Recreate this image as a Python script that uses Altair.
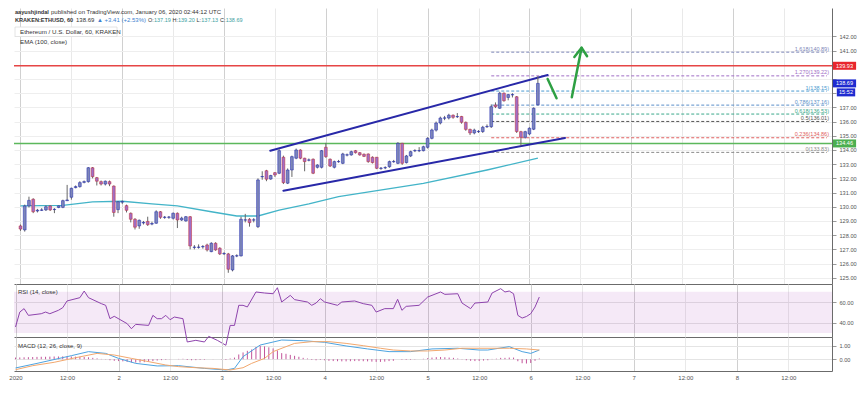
import altair as alt
import pandas as pd

FONT = "Liberation Sans"
W = 818
H_PRICE, H_RSI, H_MACD = 276, 53, 34
X_DOMAIN = [-0.35, 190.17]
PRICE_DOMAIN = [124.56, 144.0]
RSI_DOMAIN = [26.2, 77.4]
MACD_DOMAIN = [-0.874, 1.644]

UP, DOWN = "#1a24b0", "#c4282c"

# ---------------- data (hourly candles, hour 0 = Jan 1 2020 00:00) ----------------
hours = list(range(123))
opens = [128.65, 128.37, 130.06, 130.53, 129.70, 129.75, 129.78, 130.06, 129.80, 129.95,
         129.96, 130.43, 130.67, 131.35, 131.42, 131.72, 131.77, 132.75, 132.05, 131.77,
         131.60, 131.77, 131.46, 129.80, 130.33, 130.08, 129.54, 129.12, 128.65, 128.86,
         128.97, 128.78, 128.84, 129.65, 129.25, 129.26, 129.19, 129.54, 129.07, 129.00,
         129.30, 127.14, 127.14, 127.18, 127.31, 126.84, 127.43, 127.08, 126.69, 126.68,
         125.55, 126.53, 126.54, 129.06, 129.12, 129.06, 128.60, 132.11, 132.54, 131.95,
         132.40, 132.36, 133.49, 131.66, 132.59, 133.42, 134.00, 133.42, 133.28, 133.35,
         132.78, 132.78, 134.19, 133.35, 132.78, 133.17, 133.06, 133.64, 133.65, 133.95,
         133.81, 133.70, 133.72, 133.49, 133.49, 132.70, 132.74, 132.82, 133.17, 133.06,
         134.47, 133.11, 133.58, 133.94, 133.94, 133.95, 134.19, 134.82, 135.40, 135.90,
         136.24, 136.25, 136.45, 136.34, 136.36, 135.95, 135.45, 135.20, 135.29, 135.30,
         135.64, 135.64, 137.17, 136.94, 138.00, 137.70, 137.88, 137.75, 135.29, 134.89,
         135.13, 135.46, 137.19]
closes = [128.43, 130.06, 130.45, 129.65, 129.76, 129.78, 130.00, 129.78, 129.82, 130.06,
          130.43, 130.48, 131.30, 131.42, 131.70, 131.77, 132.75, 132.12, 131.80, 131.60,
          131.80, 131.60, 129.60, 130.35, 130.36, 129.75, 129.12, 128.56, 129.05, 128.90,
          128.74, 128.82, 129.65, 129.26, 129.27, 129.28, 129.54, 129.07, 129.20, 129.30,
          127.24, 127.16, 127.16, 127.20, 126.96, 127.43, 126.96, 126.68, 126.71, 125.60,
          126.54, 126.55, 129.12, 129.08, 128.88, 129.08, 131.89, 132.13, 131.94, 132.20,
          132.24, 133.95, 131.70, 132.59, 133.53, 134.00, 133.42, 133.18, 133.30, 132.36,
          132.94, 133.95, 133.53, 132.87, 133.18, 133.19, 133.72, 133.66, 133.88, 133.81,
          133.65, 133.55, 133.18, 133.11, 132.71, 132.72, 132.76, 133.18, 133.19, 134.47,
          133.06, 133.58, 133.88, 133.96, 133.96, 134.23, 134.82, 135.41, 135.90, 136.25,
          136.26, 136.45, 136.30, 136.36, 135.95, 135.45, 135.20, 135.40, 135.31, 135.60,
          135.66, 137.05, 137.05, 138.00, 137.47, 137.90, 137.90, 135.30, 134.89, 135.29,
          135.53, 136.94, 138.69]
highs = [128.75, 130.15, 130.71, 130.60, 129.85, 129.90, 130.10, 130.10, 129.90, 130.10,
         130.50, 131.54, 131.35, 131.50, 131.80, 131.85, 132.80, 132.80, 132.10, 131.85,
         131.85, 131.85, 131.50, 130.40, 130.45, 130.15, 129.60, 129.20, 129.10, 129.00,
         129.30, 128.95, 129.75, 129.70, 129.35, 129.35, 129.60, 129.60, 129.30, 129.35,
         129.35, 127.30, 127.35, 127.30, 127.40, 127.50, 127.50, 127.15, 126.80, 126.75,
         126.60, 126.65, 129.30, 129.50, 129.20, 129.20, 132.00, 132.50, 132.60, 132.25,
         132.45, 134.05, 133.60, 132.70, 133.60, 134.10, 134.05, 133.45, 133.40, 133.40,
         133.00, 134.00, 134.50, 133.40, 133.25, 133.30, 133.80, 133.75, 133.95, 134.00,
         133.85, 133.75, 133.75, 133.55, 133.50, 132.80, 132.85, 133.25, 133.30, 134.55,
         134.50, 133.65, 133.95, 134.05, 134.20, 134.30, 134.90, 135.50, 136.00, 136.35,
         136.40, 136.55, 136.50, 136.60, 136.40, 136.00, 135.50, 135.50, 135.40, 135.70,
         135.80, 137.20, 137.35, 138.10, 138.05, 137.95, 138.00, 137.80, 135.35, 135.35,
         135.60, 137.00, 139.20]
lows = [128.30, 128.25, 129.95, 129.55, 129.60, 129.70, 129.70, 129.70, 129.55, 129.90,
        129.90, 130.40, 130.50, 131.30, 131.35, 131.65, 131.70, 132.00, 131.50, 131.50,
        131.50, 131.45, 129.30, 129.55, 130.20, 129.60, 128.90, 128.40, 128.45, 128.75,
        128.65, 128.70, 128.80, 129.15, 129.15, 129.15, 129.10, 128.50, 129.00, 128.95,
        127.00, 127.00, 127.05, 127.05, 126.85, 126.80, 126.90, 126.60, 126.60, 125.35,
        125.45, 126.45, 126.50, 128.90, 128.60, 128.90, 128.50, 131.90, 131.80, 131.90,
        132.10, 132.30, 131.60, 131.60, 132.10, 133.35, 133.35, 132.50, 133.20, 132.30,
        132.70, 132.70, 133.45, 132.80, 132.70, 133.10, 133.00, 133.55, 133.60, 133.75,
        133.60, 133.50, 133.10, 133.05, 132.65, 132.60, 132.65, 132.75, 133.10, 133.00,
        132.95, 133.05, 133.50, 133.85, 133.85, 133.90, 134.10, 134.75, 135.30, 135.80,
        136.10, 136.15, 136.20, 136.25, 135.85, 135.35, 135.05, 135.10, 135.20, 135.20,
        135.55, 135.55, 136.95, 136.90, 137.40, 137.50, 137.70, 135.20, 134.30, 134.80,
        135.05, 135.40, 137.13]

ema_h = [0, 10, 17, 24, 31, 37, 45, 51, 56, 61, 68, 75, 95, 110, 122]
ema_v = [130.06, 130.10, 130.34, 130.39, 130.20, 130.06, 129.65, 129.35, 129.35, 129.77,
         130.20, 130.71, 131.65, 132.59, 133.42]

rsi_h = [0, 1, 2, 3, 6, 7, 8, 10, 11, 12, 15, 16, 17, 20, 21, 22, 23, 26, 27, 28,
         31, 32, 33, 34, 35, 36, 37, 39, 40, 42, 44, 45, 47, 49, 50, 51, 52, 53, 54, 56,
         58, 60, 61, 62, 64, 65, 68, 69, 70, 71, 72, 75, 76, 79, 81, 83, 84, 86, 88, 89,
         90, 91, 94, 96, 99, 100, 103, 104, 106, 107, 110, 111, 113, 114, 115, 116, 117, 118,
         119, 120, 121, 122]
rsi_v = [35.9, 50.3, 53.6, 47.1, 48.7, 50.3, 48.7, 52.0, 54.5, 61.0, 64.2, 70.6, 64.2, 58.4,
         56.8, 43.9, 46.2, 39.1, 34.2, 38.4, 37.4, 47.1, 43.9, 43.9, 47.1, 42.9, 45.5, 43.9,
         21.4, 23.0, 21.4, 26.8, 23.0, 18.2, 37.4, 37.4, 56.8, 56.8, 55.2, 69.7, 68.7, 68.0,
         73.8, 60.0, 66.4, 62.3, 60.0, 56.8, 59.0, 63.2, 60.0, 56.8, 60.0, 61.0, 58.4, 56.8,
         50.3, 53.6, 53.6, 62.6, 52.0, 55.8, 56.8, 64.8, 69.7, 67.4, 68.0, 59.0, 53.6, 59.0,
         60.0, 68.7, 72.9, 69.7, 70.6, 68.0, 47.1, 44.5, 46.0, 48.7, 55.2, 64.8]

macd_h = [0, 5, 13, 17, 21, 24, 28, 33, 38, 44, 49, 51, 53, 57, 62, 67, 72, 77, 82, 87,
          92, 97, 103, 108, 110, 115, 118, 120, 122]
macd_v = [-0.65, -0.31, 0.26, 0.56, 0.43, 0.06, -0.31, -0.50, -0.48, -0.68, -0.80, -0.68,
          0.19, 1.05, 1.42, 1.37, 1.25, 0.98, 0.76, 0.56, 0.56, 0.76, 0.81, 0.68, 0.68, 0.93,
          0.56, 0.43, 0.68]
sig_h = [0, 4, 9, 14, 19, 23, 27, 31, 35, 38, 42, 46, 50, 53, 55, 58, 60, 63, 65, 69,
         73, 77, 81, 85, 88, 92, 96, 100, 104, 108, 112, 115, 119, 122]
sig_v = [-0.78, -0.48, -0.23, 0.11, 0.43, 0.31, 0.06, -0.18, -0.43, -0.55, -0.63, -0.68,
         -0.80, -0.63, -0.31, 0.06, 0.56, 0.93, 1.17, 1.30, 1.30, 1.17, 1.00, 0.81, 0.68,
         0.61, 0.61, 0.68, 0.81, 0.81, 0.81, 0.81, 0.76, 0.68]
hist_v = [0.12, 0.13, 0.14, 0.15, 0.16, 0.17, 0.18, 0.18, 0.19, 0.20, 0.20, 0.21, 0.20,
          0.20, 0.19, 0.18, 0.16, 0.14, 0.10, 0.06, 0.02, -0.02, -0.08, -0.12,
          -0.14, -0.16, -0.20, -0.24, -0.25, -0.24, -0.22,
          -0.18, -0.14, -0.10, -0.07, -0.04, -0.02, 0.00, 0.02, 0.03,
          -0.06, -0.08, -0.07, -0.05, -0.04, 0.00, 0.01, 0.00, -0.02, -0.05,
          0.05, 0.12, 0.35, 0.50, 0.62, 0.72, 0.90, 1.00,
          0.95, 0.88, 0.80, 0.65, 0.45, 0.40,
          0.32, 0.25, 0.18, 0.10, 0.05, -0.05, -0.08,
          -0.05, -0.08, -0.12, -0.14, -0.15, -0.16, -0.16, -0.15, -0.14, -0.14, -0.15, -0.16, -0.18, -0.20,
          -0.20, -0.18, -0.14, -0.12, 0.00, -0.04, -0.05, -0.04, -0.02, 0.00, 0.03,
          0.08, 0.12, 0.15, 0.16, 0.14, 0.12, 0.10, 0.05,
          -0.02, -0.08, -0.12, -0.14, -0.13, -0.10, -0.08,
          0.02, 0.04, 0.10, 0.10, 0.12, 0.12,
          -0.15, -0.30, -0.32, -0.28, -0.12, 0.05]

fib_text = ["1.618(140.89)", "1.270(139.22)", "1(138.15)", "0.786(137.16)",
            "0.618(136.53)", "0.5(136.01)", "0.236(134.86)", "0(133.83)"]
fib_price = [140.89, 139.22, 138.15, 137.16, 136.53, 136.01, 134.86, 133.83]
fib_color = ["#7d86b8", "#a06ec6", "#4a9ad0", "#5b8fc9", "#3aa88a", "#555555", "#e06060", "#8a8a8a"]
fib_start = 111

upper_h, upper_p = [58.9, 124.3], [133.95, 139.28]
lower_h, lower_p = [62.0, 128.4], [131.13, 134.85]
arrow1_h, arrow1_p = [124.3, 126.4], [139.00, 137.64]
arrow2_h, arrow2_p = [130.0, 132.3], [137.71, 141.20]
head_h, head_p = [130.6, 132.3, 133.6], [140.55, 141.20, 140.60]

resistance, support = 139.93, 134.46
last_price = 138.69

time_ticks = list(range(0, 181, 12))
price_ticks = list(range(125, 143))
hidden_price_labels = [138, 139, 140]  # covered by the price tags in the reference

# ---------------- helpers ----------------
dummy = pd.DataFrame({"a": [0]})
GRID_X = {"condition": {"test": "datum.value % 24 === 0", "value": "#d0d0d0"}, "value": "#e9e9e9"}
AX_X = alt.Axis(values=time_ticks, labels=False, ticks=False, domain=True, domainColor="#6b6b6b",
                grid=True, gridColor=GRID_X, title=None)
AX_X_BOTTOM = alt.Axis(values=time_ticks, ticks=False, domain=True, domainColor="#6b6b6b",
                       grid=True, gridColor=GRID_X, title=None, labelFontSize=6, labelColor="#555",
                       labelFont=FONT, labelPadding=3, labelFlush=False, labelOverlap=False,
                       labelExpr="datum.value == 0 ? '2020' : (datum.value % 24 == 0 ? toString(datum.value / 24 + 1) : '12:00')")


def right_axis(values, grid_color="#eeeeee", label_expr=None):
    kw = dict(orient="right", values=values, format=".2f", labelFontSize=5.6, labelColor="#555",
              labelFont=FONT, tickSize=4, tickColor="#999", domainColor="#6b6b6b",
              labelPadding=3, grid=True, gridColor=grid_color, title=None,
              labelOverlap=False, labelFlush=False)
    if label_expr:
        kw["labelExpr"] = label_expr
    return alt.Axis(**kw)


hidden_js = "[" + ",".join(str(v) for v in hidden_price_labels) + "]"
AX_PRICE = right_axis(price_ticks, label_expr=f"indexof({hidden_js}, datum.value) >= 0 ? '' : datum.label")
AX_RSI = right_axis([40, 60], "#e4e4e4")
AX_MACD = right_axis([0, 1], "#e4e4e4")
PRICE_SCALE = alt.Scale(domain=PRICE_DOMAIN, nice=False, zero=False)


def X(field="h", axis=AX_X):
    return alt.X(f"{field}:Q", scale=alt.Scale(domain=X_DOMAIN, nice=False, zero=False), axis=axis)


def PY(field):
    return alt.Y(f"{field}:Q", scale=PRICE_SCALE, axis=AX_PRICE)


def PD(value):
    return alt.Y(datum=value, scale=PRICE_SCALE, axis=AX_PRICE)


def label(text, x, y, size=6, color="#333", weight="normal", align="left"):
    return alt.Chart(dummy).mark_text(text=text, fontSize=size, color=color, fontWeight=weight,
                                      align=align, baseline="middle", font=FONT).encode(
        x=alt.value(x), y=alt.value(y))


# ---------------- price pane ----------------
candles = pd.DataFrame({"h": hours, "open": opens, "close": closes, "high": highs, "low": lows})
candles["dir"] = ["up" if c >= o else "down" for o, c in zip(opens, closes)]
dir_scale = alt.Scale(domain=["up", "down"], range=[UP, DOWN])

wicks = alt.Chart(candles).mark_rule(strokeWidth=1, color="#666").encode(
    x=X(), y=PY("low"), y2="high:Q")
bodies = alt.Chart(candles).mark_bar(size=2.8, strokeWidth=0.5).encode(
    x=X(), y=PY("open"), y2="close:Q",
    color=alt.Color("dir:N", scale=dir_scale, legend=None),
    stroke=alt.Stroke("dir:N", scale=dir_scale, legend=None))

ema = alt.Chart(pd.DataFrame({"h": ema_h, "v": ema_v})).mark_line(
    color="#43b4c8", strokeWidth=1.3).encode(x=X(), y=PY("v"))

res_line = alt.Chart(dummy).mark_rule(color="#e64545", strokeWidth=1.5).encode(y=PD(resistance))
sup_line = alt.Chart(dummy).mark_rule(color="#5cb85c", strokeWidth=1.5).encode(y=PD(support))

fib_df = pd.DataFrame({"label": fib_text, "price": fib_price})
fib_scale = alt.Scale(domain=fib_text, range=fib_color)
fib_lines = alt.Chart(fib_df).mark_rule(strokeDash=[3, 2], strokeWidth=1).encode(
    x=alt.datum(fib_start), x2=alt.datum(X_DOMAIN[1]), y=PY("price"),
    color=alt.Color("label:N", scale=fib_scale, legend=None))
fib_labels = alt.Chart(fib_df).mark_text(align="right", baseline="bottom", dy=-0.5, fontSize=5.5,
                                         font=FONT).encode(
    x=alt.value(W - 3), y=PY("price"), text="label:N",
    color=alt.Color("label:N", scale=fib_scale, legend=None))


def polyline(hs, ps, color, width):
    df = pd.DataFrame({"h": hs, "p": ps, "i": list(range(len(hs)))})
    return alt.Chart(df).mark_line(color=color, strokeWidth=width, strokeCap="round",
                                   strokeJoin="round").encode(x=X(), y=PY("p"), order="i:Q")


ch_up = polyline(upper_h, upper_p, "#2828a8", 2)
ch_lo = polyline(lower_h, lower_p, "#2828a8", 2)
arr1 = polyline(arrow1_h, arrow1_p, "#2ea043", 2.5)
arr2 = polyline(arrow2_h, arrow2_p, "#2ea043", 2.5)
arr_head = polyline(head_h, head_p, "#2ea043", 2.5)


def tag(price, text, color, half_w=2.9, x=830.5, yoff=0):
    shape = f"M-{half_w},-1H{half_w}V1H-{half_w}Z"
    box = alt.Chart(dummy).mark_point(shape=shape, size=64, filled=True, opacity=1, color=color,
                                      strokeWidth=0, yOffset=yoff).encode(
        x=alt.value(x), y=PD(price))
    txt = alt.Chart(dummy).mark_text(text=text, color="white", fontSize=5.6, font=FONT, align="center",
                                     baseline="middle", yOffset=yoff).encode(
        x=alt.value(x), y=PD(price))
    return [box, txt]


tags = (tag(resistance, "139.93", "#e8262c") + tag(last_price, "138.69", "#1f2bd0")
        + tag(last_price, "15:52", "#1f2bd0", half_w=2.3, x=832, yoff=9)
        + tag(support, "134.46", "#4caf50"))

legend_box = alt.Chart(dummy).mark_rect(fill="white", stroke="#dddddd", strokeWidth=0.8).encode(
    x=alt.value(1), x2=alt.value(103), y=alt.value(19), y2=alt.value(28.5))

TEAL = "#3d9f9f"
header = [
    label("aayushjindal", 1, 3.5, size=5.6, weight="bold"),
    label("published on TradingView.com, January 06, 2020 02:44:12 UTC", 37, 3.5),
    label("KRAKEN:ETHUSD, 60", 1, 11.5, size=5.6, weight="bold"),
    label("138.69", 62, 11.5),
    label("▲ +3.41 (+2.53%)", 83, 11.5, color="#3d7fd0"),
    label("O:", 134, 11.5, size=5.5), label("137.19", 140, 11.5, size=5.5, color=TEAL),
    label("H:", 158.5, 11.5, size=5.5), label("139.20", 164, 11.5, size=5.5, color=TEAL),
    label("L:", 182.5, 11.5, size=5.5), label("137.13", 187.3, 11.5, size=5.5, color=TEAL),
    label("C:", 206, 11.5, size=5.5), label("138.69", 211.7, 11.5, size=5.5, color=TEAL),
    legend_box,
    label("Ethereum / U.S. Dollar, 60, KRAKEN", 6, 23.8, size=6.2),
    label("EMA (100, close)", 6, 33.5, size=6.2),
]

price = alt.layer(ema, res_line, sup_line, fib_lines, fib_labels, ch_up, ch_lo, wicks, bodies,
                  arr1, arr2, arr_head, *tags, *header).properties(width=W, height=H_PRICE)

# ---------------- RSI pane ----------------
RY = alt.Scale(domain=RSI_DOMAIN, nice=False, zero=False)
rsi_band = alt.Chart(dummy).mark_rect(color="#9c27b0", opacity=0.1).encode(
    x=alt.datum(X_DOMAIN[0]), x2=alt.datum(X_DOMAIN[1]),
    y=alt.Y(datum=70, scale=RY, axis=AX_RSI), y2=alt.datum(30))
rsi_line = alt.Chart(pd.DataFrame({"h": rsi_h, "v": rsi_v})).mark_line(
    color="#8e44ad", strokeWidth=1).encode(x=X(), y=alt.Y("v:Q", scale=RY, axis=AX_RSI))
rsi = alt.layer(rsi_band, rsi_line, label("RSI (14, close)", 4, 8, size=6)).properties(
    width=W, height=H_RSI)

# ---------------- MACD pane ----------------
MY = alt.Scale(domain=MACD_DOMAIN, nice=False, zero=False)
hist = alt.Chart(pd.DataFrame({"h": hours, "v": hist_v})).mark_rule(
    color="#c2549a", strokeWidth=1).encode(
    x=X(axis=AX_X_BOTTOM), y=alt.Y("v:Q", scale=MY, axis=AX_MACD), y2=alt.datum(0))
macd_line = alt.Chart(pd.DataFrame({"h": macd_h, "v": macd_v})).mark_line(
    color="#4da3e0", strokeWidth=1).encode(x=X(axis=AX_X_BOTTOM), y=alt.Y("v:Q", scale=MY, axis=AX_MACD))
sig_line = alt.Chart(pd.DataFrame({"h": sig_h, "v": sig_v})).mark_line(
    color="#f2a86e", strokeWidth=1).encode(x=X(axis=AX_X_BOTTOM), y=alt.Y("v:Q", scale=MY, axis=AX_MACD))
macd = alt.layer(hist, macd_line, sig_line, label("MACD (12, 26, close, 9)", 4, 9, size=6)).properties(
    width=W, height=H_MACD)

chart = alt.vconcat(price, rsi, macd, spacing=0, bounds="flush").properties(
    padding=0, background="white").configure_view(stroke=None).configure_axis(labelOverlap=False)

chart.save("out.html", embed_options={"renderer": "svg", "actions": False})
